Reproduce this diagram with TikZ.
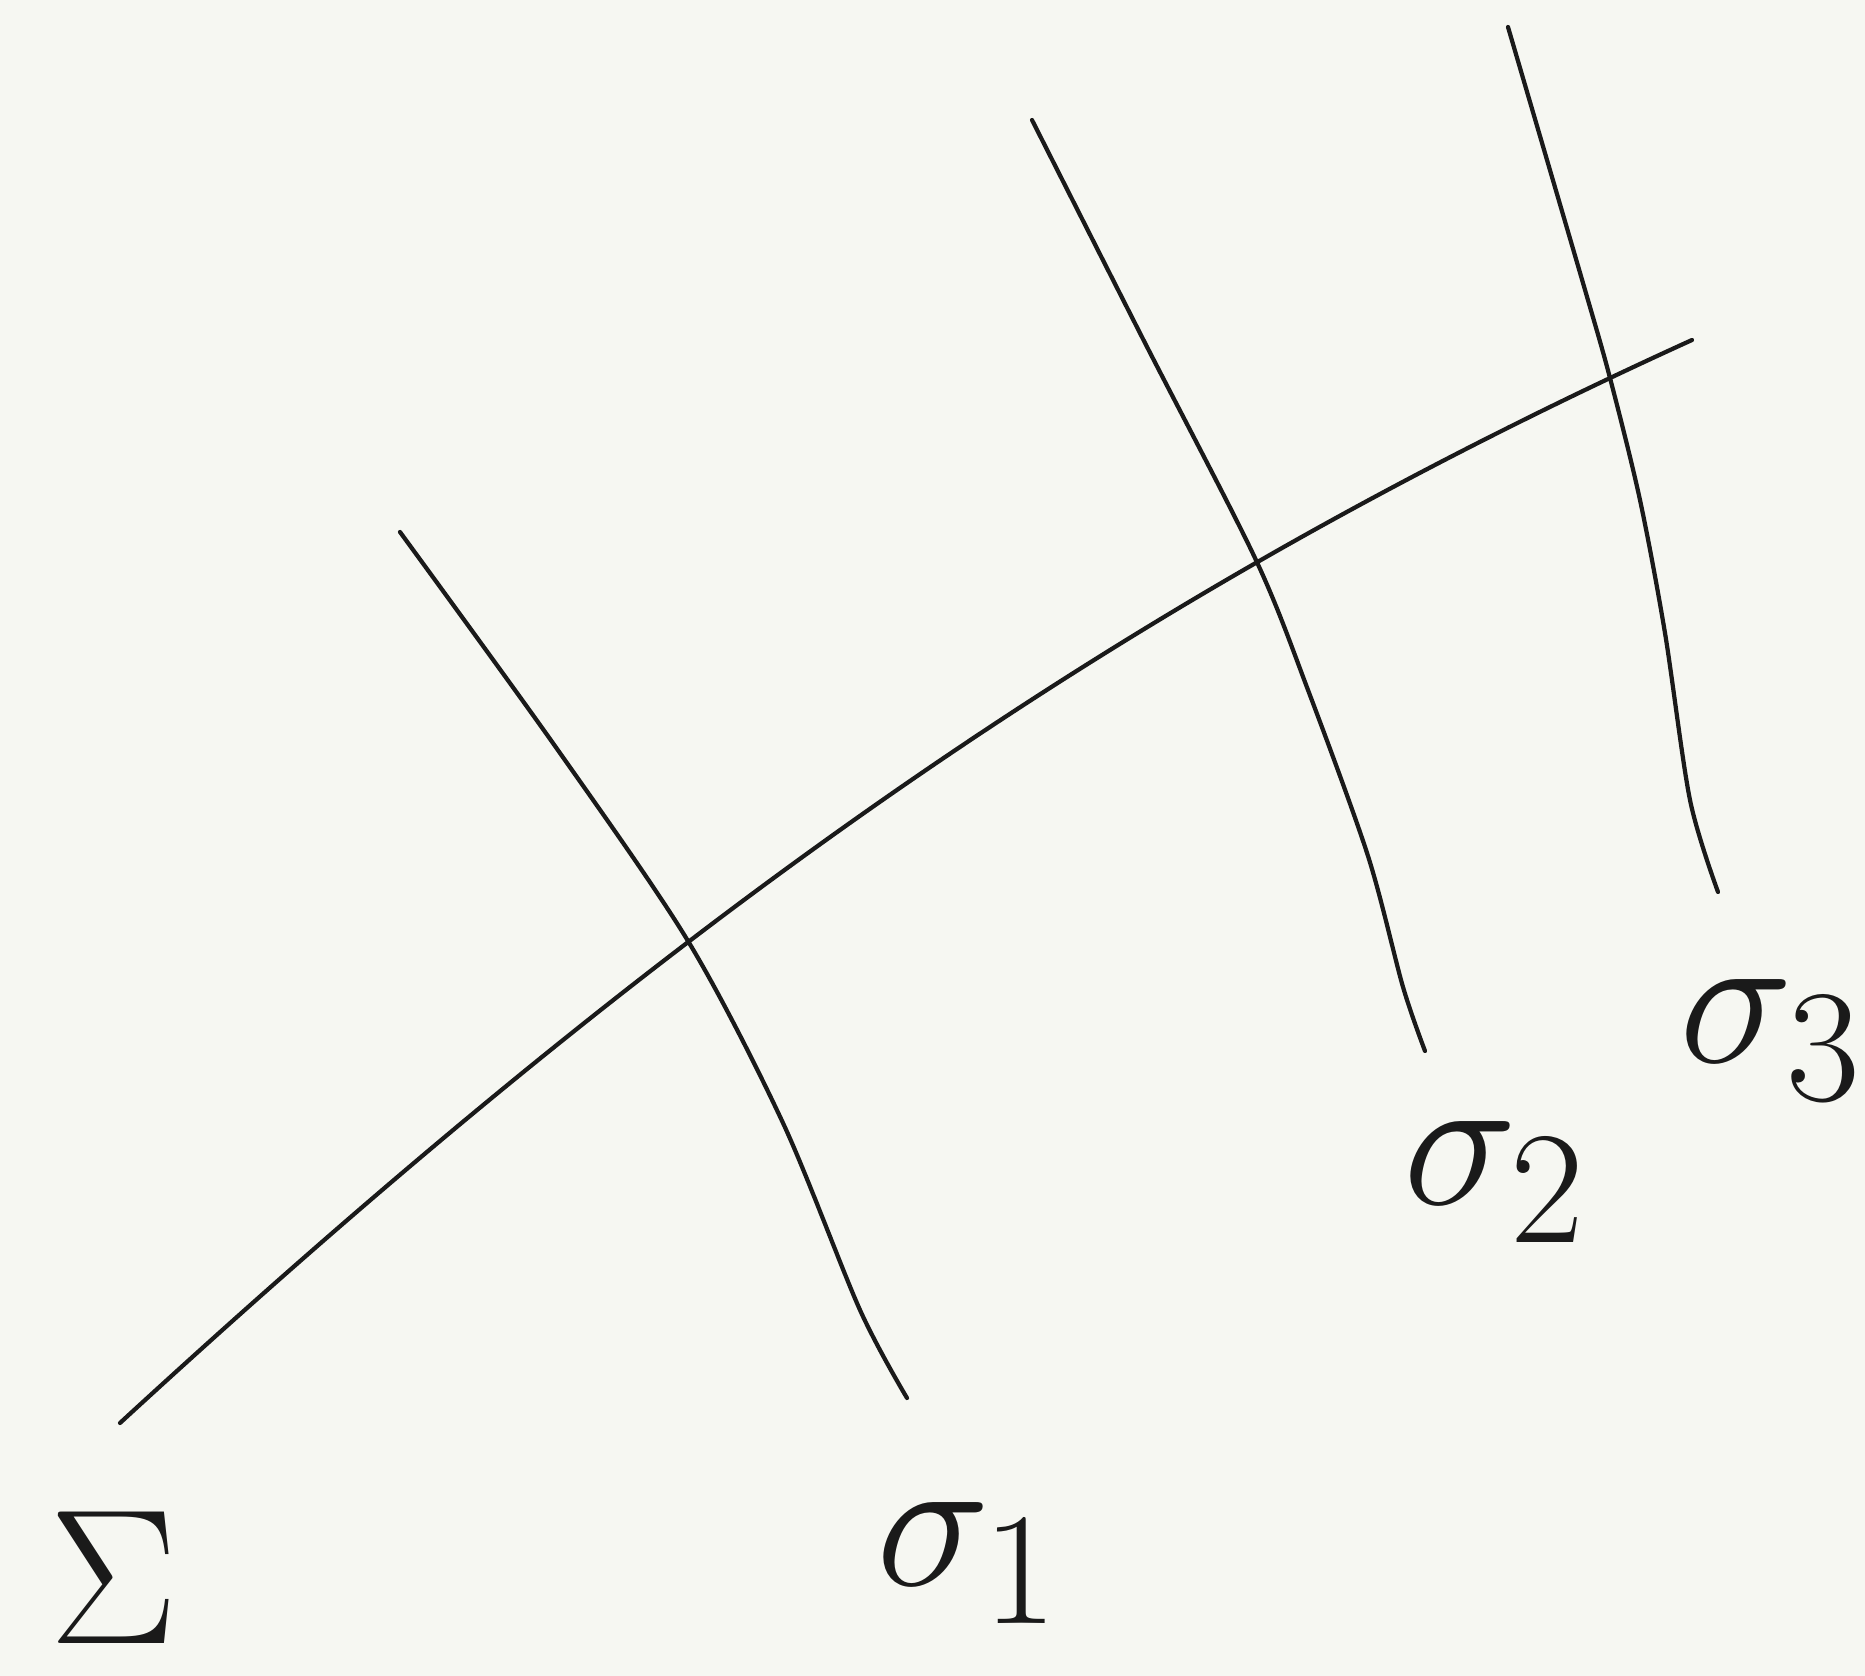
\documentclass[tikz,border=0pt]{standalone}
\usepackage{xcolor}
\usepackage{graphicx}
\usepackage{tikz}
\definecolor{PaperWhite}{HTML}{F6F7F2}
\definecolor{InkBlack}{HTML}{1A1A1A}
\newcommand{\biglbl}[1]{\scalebox{2.2}{\Huge$#1$}}

\begin{document}
\begin{tikzpicture}[
  x=0.01cm, y=-0.01cm,
  ink/.style={draw=InkBlack, line width=1.2pt, line cap=round},
  lbl/.style={text=InkBlack, inner sep=0pt}
]

\fill[PaperWhite] (0,0) rectangle (1865,1676);
\useasboundingbox (0,0) rectangle (1865,1676);

% the hypersurface
\draw[ink] (120,1423) .. controls (680,908) and (1131,595) .. (1692,340);

% the three transversal curves
\draw[ink] plot[smooth] coordinates {
  (400,532) (555,746) (688,941) (783,1123) (860,1310) (907,1398)};
\draw[ink] plot[smooth] coordinates {
  (1032,120) (1143,339) (1255,558) (1308,690) (1368,856) (1403,987) (1425,1051)};
\draw[ink] plot[smooth] coordinates {
  (1508,27) (1583,283) (1610,378) (1640,500) (1665,633) (1690,800) (1718,892)};

\node[lbl] (sigmaBig) at (114,1578) {\biglbl{\Sigma}};
\node[lbl] (sigmaOne) at (969,1563) {\biglbl{\sigma_1}};
\node[lbl] (sigmaTwo) at (1496,1182) {\biglbl{\sigma_2}};
\node[lbl] (sigmaThree) at (1772,1040) {\biglbl{\sigma_3}};

\end{tikzpicture}
\end{document}
